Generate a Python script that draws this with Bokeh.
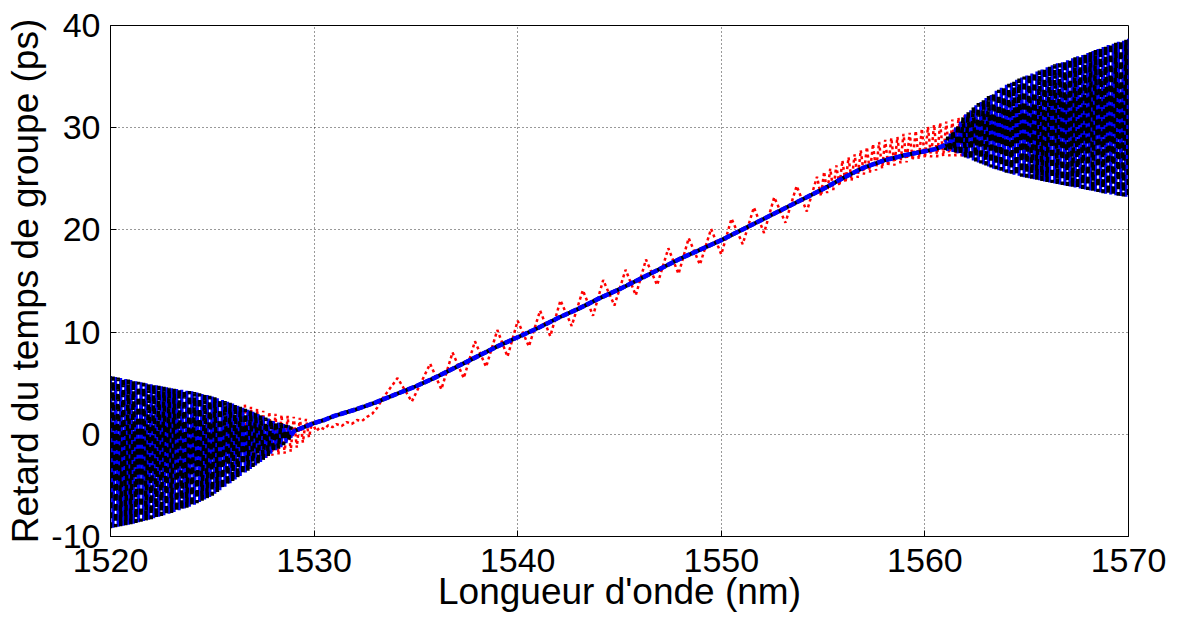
from bokeh.plotting import figure
from bokeh.models import Range1d, FixedTicker
from bokeh.embed import file_html
from bokeh.resources import INLINE

# ---------------- data ----------------
x_ticks = [1520, 1530, 1540, 1550, 1560, 1570]
y_ticks = [-10, 0, 10, 20, 30, 40]
y_tick_labels = {-10: "-10", 0: "0", 10: "10", 20: "20", 30: "30", 40: "40"}

# left oscillating region (blue / black): sample wavelengths and envelope values
left_wl = [1520.0, 1520.125, 1520.25, 1520.375, 1520.5, 1520.625, 1520.75, 1520.875,
           1521.0, 1521.125, 1521.25, 1521.375, 1521.5, 1521.625, 1521.75, 1521.875,
           1522.0, 1522.125, 1522.25, 1522.375, 1522.5, 1522.625, 1522.75, 1522.875,
           1523.0, 1523.125, 1523.25, 1523.375, 1523.5, 1523.625, 1523.75, 1523.875,
           1524.0, 1524.125, 1524.25, 1524.375, 1524.5, 1524.625, 1524.75, 1524.875,
           1525.0, 1525.125, 1525.25, 1525.375, 1525.5, 1525.625, 1525.75, 1525.875,
           1526.0, 1526.125, 1526.25, 1526.375, 1526.5, 1526.625, 1526.75, 1526.875,
           1527.0, 1527.125, 1527.25, 1527.375, 1527.5, 1527.625, 1527.75, 1527.875,
           1528.0, 1528.125, 1528.25, 1528.375, 1528.5, 1528.625, 1528.75, 1528.875]
left_hi = [5.70, 5.65, 5.60, 5.55, 5.50, 5.45, 5.40, 5.35,
           5.30, 5.25, 5.20, 5.15, 5.10, 5.05, 5.00, 4.95,
           4.90, 4.85, 4.80, 4.75, 4.70, 4.65, 4.60, 4.55,
           4.50, 4.46, 4.42, 4.39, 4.35, 4.31, 4.27, 4.24,
           4.20, 4.14, 4.08, 4.01, 3.95, 3.89, 3.83, 3.76,
           3.70, 3.61, 3.52, 3.44, 3.35, 3.26, 3.18, 3.09,
           3.00, 2.90, 2.80, 2.70, 2.60, 2.50, 2.40, 2.30,
           2.20, 2.09, 1.97, 1.86, 1.75, 1.64, 1.53, 1.41,
           1.30, 1.22, 1.15, 1.08, 1.00, 0.92, 0.85, 0.78]
left_lo = [-9.20, -9.15, -9.10, -9.05, -9.00, -8.95, -8.90, -8.85,
           -8.80, -8.74, -8.68, -8.61, -8.55, -8.49, -8.43, -8.36,
           -8.30, -8.22, -8.15, -8.07, -8.00, -7.92, -7.85, -7.77,
           -7.70, -7.61, -7.52, -7.44, -7.35, -7.26, -7.18, -7.09,
           -7.00, -6.88, -6.75, -6.62, -6.50, -6.38, -6.25, -6.12,
           -6.00, -5.82, -5.65, -5.48, -5.30, -5.12, -4.95, -4.78,
           -4.60, -4.42, -4.25, -4.08, -3.90, -3.72, -3.55, -3.38,
           -3.20, -3.05, -2.90, -2.70, -2.50, -2.30, -2.10, -1.90,
           -1.70, -1.55, -1.40, -1.25, -1.05, -0.85, -0.62, -0.38]

# smooth central part (blue and black coincide)
mid_wl = [1528.875, 1529.0, 1529.5, 1530.0, 1530.5, 1531, 1532, 1533, 1534, 1535, 1536,
          1537, 1538, 1539, 1540, 1541, 1542, 1543, 1544, 1545, 1546,
          1547, 1548, 1549, 1550, 1551, 1552, 1553, 1554, 1555, 1556,
          1557, 1558, 1559, 1560, 1560.5, 1561.0]
mid_delay = [-0.1, 0.3, 0.7, 1.1, 1.4, 1.8, 2.4, 3.1, 3.9, 4.7, 5.6,
             6.6, 7.6, 8.6, 9.5, 10.4, 11.4, 12.3, 13.3, 14.2, 15.2,
             16.2, 17.2, 18.1, 19.0, 20.0, 21.0, 22.0, 23.0, 24.0, 25.1,
             26.1, 26.8, 27.3, 27.7, 27.9, 28.3]

# right oscillating region
right_wl = [1561.0, 1561.125, 1561.25, 1561.375, 1561.5, 1561.625, 1561.75, 1561.875,
            1562.0, 1562.125, 1562.25, 1562.375, 1562.5, 1562.625, 1562.75, 1562.875,
            1563.0, 1563.125, 1563.25, 1563.375, 1563.5, 1563.625, 1563.75, 1563.875,
            1564.0, 1564.125, 1564.25, 1564.375, 1564.5, 1564.625, 1564.75, 1564.875,
            1565.0, 1565.125, 1565.25, 1565.375, 1565.5, 1565.625, 1565.75, 1565.875,
            1566.0, 1566.125, 1566.25, 1566.375, 1566.5, 1566.625, 1566.75, 1566.875,
            1567.0, 1567.125, 1567.25, 1567.375, 1567.5, 1567.625, 1567.75, 1567.875,
            1568.0, 1568.125, 1568.25, 1568.375, 1568.5, 1568.625, 1568.75, 1568.875,
            1569.0, 1569.125, 1569.25, 1569.375, 1569.5, 1569.625, 1569.75, 1569.875,
            1570.0]
right_hi = [28.8, 29.1, 29.4, 29.7, 30.0, 30.3, 30.6, 31.0,
            31.3, 31.5, 31.7, 32.0, 32.2, 32.4, 32.5, 32.7,
            32.9, 33.1, 33.2, 33.4, 33.6, 33.7, 33.9, 34.0,
            34.2, 34.3, 34.4, 34.5, 34.7, 34.8, 34.9, 35.0,
            35.1, 35.2, 35.3, 35.4, 35.5, 35.6, 35.7, 35.8,
            35.9, 36.0, 36.1, 36.2, 36.3, 36.3, 36.4, 36.5,
            36.6, 36.7, 36.8, 36.9, 37.0, 37.0, 37.1, 37.2,
            37.3, 37.4, 37.5, 37.6, 37.7, 37.8, 37.9, 38.0,
            38.1, 38.2, 38.2, 38.3, 38.4, 38.5, 38.5, 38.6,
            38.7]
right_lo = [27.8, 27.75, 27.7, 27.65, 27.6, 27.5, 27.35, 27.2,
            27.1, 27.0, 26.9, 26.8, 26.7, 26.6, 26.5, 26.4,
            26.3, 26.2, 26.1, 26.0, 25.95, 25.85, 25.8, 25.7,
            25.6, 25.55, 25.5, 25.4, 25.35, 25.3, 25.2, 25.15,
            25.1, 25.05, 25.0, 24.95, 24.9, 24.85, 24.8, 24.75,
            24.7, 24.65, 24.6, 24.55, 24.5, 24.45, 24.4, 24.35,
            24.3, 24.25, 24.2, 24.15, 24.1, 24.05, 24.0, 23.95,
            23.9, 23.85, 23.8, 23.75, 23.7, 23.65, 23.6, 23.55,
            23.5, 23.46, 23.42, 23.39, 23.35, 23.31, 23.27, 23.24,
            23.2]

# red dotted series
red_wl = [1526.6, 1526.75, 1526.9, 1527.05, 1527.2, 1527.35, 1527.5, 1527.65,
          1527.8, 1527.95, 1528.1, 1528.25, 1528.4, 1528.55, 1528.7, 1528.85,
          1529.0, 1529.15, 1529.3, 1529.45, 1529.6, 1529.75, 1529.9,
          1530.1, 1530.3, 1530.5, 1530.7, 1530.9, 1531.1, 1531.35, 1531.6,
          1531.85, 1532.1, 1532.35, 1532.6, 1532.85, 1533.1, 1533.4,
          1534.1, 1534.8, 1535.7, 1536.25, 1536.8, 1537.35, 1537.9, 1538.45,
          1539.0, 1539.5, 1540.0, 1540.55, 1541.1, 1541.6, 1542.1, 1542.65,
          1543.2, 1543.7, 1544.2, 1544.75, 1545.3, 1545.8, 1546.3, 1546.85,
          1547.4, 1547.9, 1548.4, 1548.95, 1549.5, 1550.0, 1550.5, 1551.05,
          1551.6, 1552.1, 1552.6, 1553.15, 1553.7, 1554.2, 1554.7,
          1554.9, 1555.05, 1555.2, 1555.35, 1555.5, 1555.65, 1555.8, 1555.95,
          1556.1, 1556.25, 1556.4, 1556.55, 1556.7, 1556.85, 1557.0, 1557.15,
          1557.3, 1557.45, 1557.6, 1557.75, 1557.9, 1558.05, 1558.2, 1558.35,
          1558.5, 1558.65, 1558.8, 1558.95, 1559.1, 1559.25, 1559.4, 1559.55,
          1559.7, 1559.85, 1560.0, 1560.15, 1560.3, 1560.45, 1560.6, 1560.75,
          1560.9, 1561.05, 1561.2, 1561.35, 1561.5, 1561.65, 1561.8, 1561.95,
          1562.1, 1562.25, 1562.4, 1562.55]
red_delay = [2.9, -2.9, 2.7, -2.7, 2.5, -2.5, 2.3, -2.3,
             2.2, -2.1, 2.0, -2.0, 1.9, -1.9, 1.8, -1.7,
             1.7, -1.3, 1.6, -0.8, 1.5, -0.3, 1.2,
             0.3, 0.7, 0.5, 0.9, 0.7, 1.0, 0.8, 1.2,
             1.0, 1.4, 1.3, 1.7, 2.0, 2.6, 3.6,
             5.5, 3.2, 6.9, 4.4, 8.0, 5.5, 9.1, 6.6,
             10.2, 7.6, 11.1, 8.6, 12.1, 9.6, 13.1, 10.6,
             14.1, 11.6, 15.1, 12.6, 16.1, 13.6, 17.1, 14.6,
             18.2, 15.7, 19.2, 16.6, 20.1, 17.6, 21.1, 18.6,
             22.2, 19.7, 23.2, 20.7, 24.3, 21.8, 25.2,
             23.3, 25.7, 23.6, 26.0, 23.9, 26.3, 24.3, 26.8,
             24.6, 27.1, 24.8, 27.4, 25.1, 27.8, 25.4, 28.1,
             25.6, 28.4, 25.8, 28.6, 26.0, 28.8, 26.2, 29.0,
             26.3, 29.1, 26.5, 29.4, 26.6, 29.5, 26.8, 29.7,
             26.9, 29.9, 27.0, 30.1, 27.1, 30.3, 27.1, 30.5,
             27.2, 30.6, 27.2, 30.8, 27.2, 31.0, 27.2, 31.2,
             27.2, 31.4, 27.3, 31.5]

# ---------------- build series ----------------
def zig(hi, lo, start_hi):
    out = []
    for i, (h, l) in enumerate(zip(hi, lo)):
        out.append(h if (i % 2 == 0) == start_hi else l)
    return out

blue_left = zig(left_hi, left_lo, True)
black_left = zig(left_hi, left_lo, False)
blue_right = zig(right_hi, right_lo, True)
black_right = zig(right_hi, right_lo, False)

p = figure(width=1184, height=619, output_backend="svg", toolbar_location=None,
           x_range=Range1d(1520, 1570), y_range=Range1d(-10, 40),
           min_border_left=110, min_border_right=56, min_border_top=25,
           min_border_bottom=83)
p.background_fill_color = "white"
p.border_fill_color = "white"
p.outline_line_color = "black"
p.outline_line_width = 1

# red dotted at the bottom
p.line(red_wl, red_delay, line_color="red", line_width=2.5, line_dash="3 3")
# central part: black under, blue dashed on top
p.line(mid_wl, mid_delay, line_color="black", line_width=4)
# oscillating edges: blue under, black dashed on top
for wl, yb in ((left_wl, blue_left), (right_wl, blue_right)):
    p.line(wl, yb, line_color="blue", line_width=3)
for wl, yk in ((left_wl, black_left), (right_wl, black_right)):
    p.line(wl, yk, line_color="black", line_width=3.5, line_dash="6 4")
p.line(mid_wl, mid_delay, line_color="blue", line_width=4.5, line_dash="7 2")

p.xaxis.ticker = FixedTicker(ticks=x_ticks)
p.yaxis.ticker = FixedTicker(ticks=y_ticks)
p.yaxis.major_label_overrides = y_tick_labels
p.xaxis.axis_label = "Longueur d'onde (nm)"
p.yaxis.axis_label = "Retard du temps de groupe (ps)"
for ax in (p.xaxis, p.yaxis):
    ax.major_label_text_font = "Liberation Sans"
    ax.major_label_text_font_size = "34px"
    ax.major_label_text_color = "black"
    ax.axis_label_text_font = "Liberation Sans"
    ax.axis_label_text_font_size = "37px"
    ax.axis_label_text_font_style = "normal"
    ax.axis_label_text_color = "black"
    ax.axis_line_color = "black"
    ax.major_tick_in = 6
    ax.major_tick_out = 0
    ax.minor_tick_line_color = None
    ax.major_tick_line_color = "black"
p.xaxis.major_label_standoff = 12
p.xaxis.axis_label_standoff = -4
p.yaxis.major_label_standoff = 10
p.yaxis.axis_label_standoff = 2

p.grid.grid_line_color = "black"
p.grid.grid_line_alpha = 0.8
p.grid.grid_line_dash = "1 3"
p.grid.grid_line_width = 1

open("out.html", "w").write(file_html(p, INLINE))
